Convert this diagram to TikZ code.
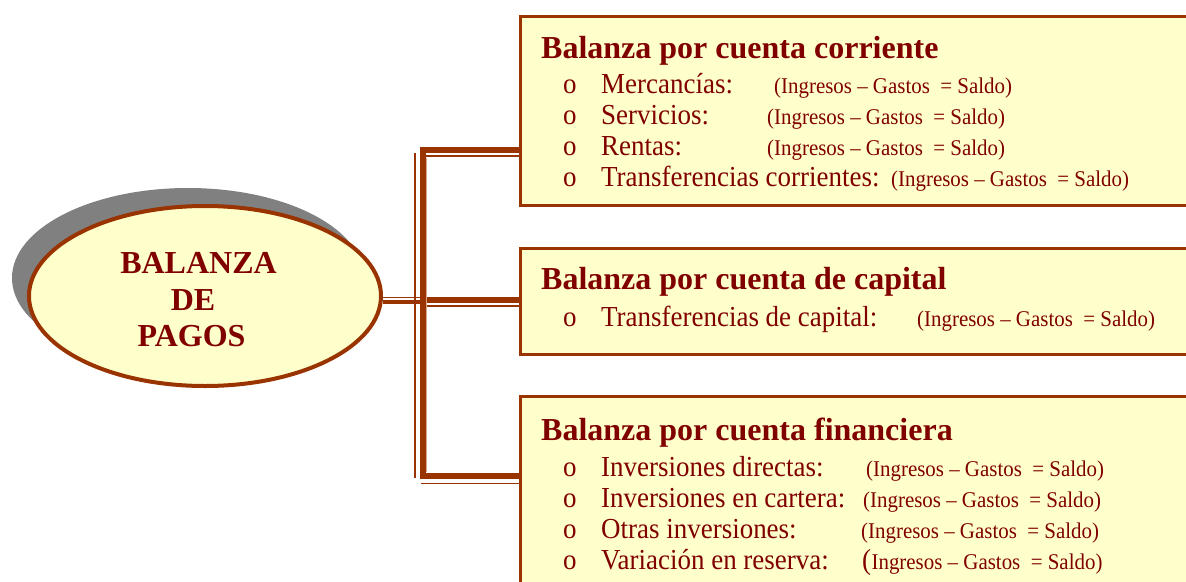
\documentclass[tikz,border=0pt]{standalone}
\usepackage{fontspec}
\setmainfont{Liberation Serif}
\newfontfamily\condfont[FakeStretch=0.93]{Liberation Serif}
\usetikzlibrary{shapes.geometric}
\definecolor{brn}{HTML}{993300}
\definecolor{fillY}{HTML}{FFFFCC}
\definecolor{txt}{HTML}{800000}
\definecolor{shd}{HTML}{808080}
\definecolor{lightbrn}{HTML}{D8A888}
\begin{document}
\begin{tikzpicture}[x=1pt,y=-1pt,
  box/.style={draw=brn,line width=3pt,fill=fillY,anchor=north west,inner sep=0pt,outer sep=0pt,minimum width=720pt},
  ttl/.style={anchor=base west,inner sep=0pt,text=txt,font=\fontsize{32}{32}\selectfont\bfseries},
  itm/.style={anchor=base west,inner sep=0pt,text=txt,font=\condfont\fontsize{29}{29}\selectfont},
  prn/.style={anchor=base west,inner sep=0pt,text=txt,font=\condfont\fontsize{22.5}{22.5}\selectfont},
  bigprn/.style={anchor=base west,inner sep=0pt,text=txt,font=\condfont\fontsize{29}{29}\selectfont},
  ctr/.style={anchor=base,inner sep=0pt,text=txt,font=\fontsize{32}{32}\selectfont\bfseries},
  thickline/.style={draw=brn,line width=6pt},
  thinline/.style={draw=brn,line width=1.5pt},
  lightline/.style={draw=lightbrn,line width=1pt},
]
\useasboundingbox (0,0) rectangle (1186,581);
\clip (0,0) rectangle (1186,581);

% boxes
\node[box,minimum height=189pt] (b1) at (520,16.5) {};
\node[box,minimum height=106pt] (b2) at (520,248.5) {};
\node[box,minimum height=220pt] (b3) at (520,396.5) {};

% ellipse with shadow
\node[ellipse,fill=shd,minimum width=352pt,minimum height=180pt,inner sep=0pt] (shadow) at (188,278) {};
\node[ellipse,draw=brn,line width=4pt,fill=fillY,minimum width=352pt,minimum height=180pt,inner sep=0pt] (bp) at (205,296) {};
\node[ctr] (l1) at (198.5,273) {BALANZA};
\node[ctr] (l2) at (193,310) {DE};
\node[ctr] (l3) at (191.5,346) {PAGOS};

% connectors
\coordinate (j1) at (422.5,150);
\coordinate (j2) at (422.5,300);
\coordinate (j3) at (422.5,476.3);
\draw[thickline,line join=miter] (j1 -| b1.west) -- (j1) -- (j3) -- (j3 -| b3.west);
\draw[thickline] (j2) -- (j2 -| b2.west);
\coordinate (m1) at (420,302);
\draw[draw=brn,line width=4pt] (bp.east |- m1) -- (m1);
\coordinate (m2) at (420,297.5);
\draw[thinline] (bp.east |- m2) -- (m2);
\coordinate (t1) at (426,156);
\draw[thinline] (t1) -- (t1 -| b1.west);
\coordinate (t2) at (426,306);
\draw[thinline] (t2) -- (t2 -| b2.west);
\coordinate (t3) at (421,483.3);
\draw[thinline] (t3) -- (t3 -| b3.west);
\coordinate (v1) at (415,153);
\coordinate (v2) at (415,478);
\draw[thinline] (v1) -- (v2);
\coordinate (w1) at (426.5,158);
\coordinate (w2) at (426.5,472);
\draw[lightline] (w1) -- (w2);

% box 1
\node[ttl] (h1) at (541,58) {Balanza por cuenta corriente};
\node[itm] (o11) at (563,93) {o};
\node[itm] (i11) at (601,93) {Mercancías:};
\node[prn] (p11) at (774,93) {(Ingresos – Gastos~ = Saldo)};
\node[itm] (o12) at (563,124) {o};
\node[itm] (i12) at (601,124) {Servicios:};
\node[prn] (p12) at (767,124) {(Ingresos – Gastos~ = Saldo)};
\node[itm] (o13) at (563,155) {o};
\node[itm] (i13) at (601,155) {Rentas:};
\node[prn] (p13) at (767,155) {(Ingresos – Gastos~ = Saldo)};
\node[itm] (o14) at (563,186) {o};
\node[itm] (i14) at (601,186) {Transferencias corrientes:};
\node[prn] (p14) at (891,186) {(Ingresos – Gastos~ = Saldo)};

% box 2
\node[ttl] (h2) at (541,289) {Balanza por cuenta de capital};
\node[itm] (o21) at (563,326) {o};
\node[itm] (i21) at (601,326) {Transferencias de capital:};
\node[prn] (p21) at (917,326) {(Ingresos – Gastos~ = Saldo)};

% box 3
\node[ttl] (h3) at (541,440) {Balanza por cuenta financiera};
\node[itm] (o31) at (563,476) {o};
\node[itm] (i31) at (601,476) {Inversiones directas:};
\node[prn] (p31) at (866,476) {(Ingresos – Gastos~ = Saldo)};
\node[itm] (o32) at (563,507) {o};
\node[itm] (i32) at (601,507) {Inversiones en cartera:};
\node[prn] (p32) at (863,507) {(Ingresos – Gastos~ = Saldo)};
\node[itm] (o33) at (563,538) {o};
\node[itm] (i33) at (601,538) {Otras inversiones:};
\node[prn] (p33) at (861,538) {(Ingresos – Gastos~ = Saldo)};
\node[itm] (o34) at (563,569) {o};
\node[itm] (i34) at (601,569) {Variación en reserva:};
\node[bigprn] (q34) at (862,569) {(};
\node[prn] (p34) at (q34.base east) {Ingresos – Gastos~ = Saldo)};
\end{tikzpicture}
\end{document}
